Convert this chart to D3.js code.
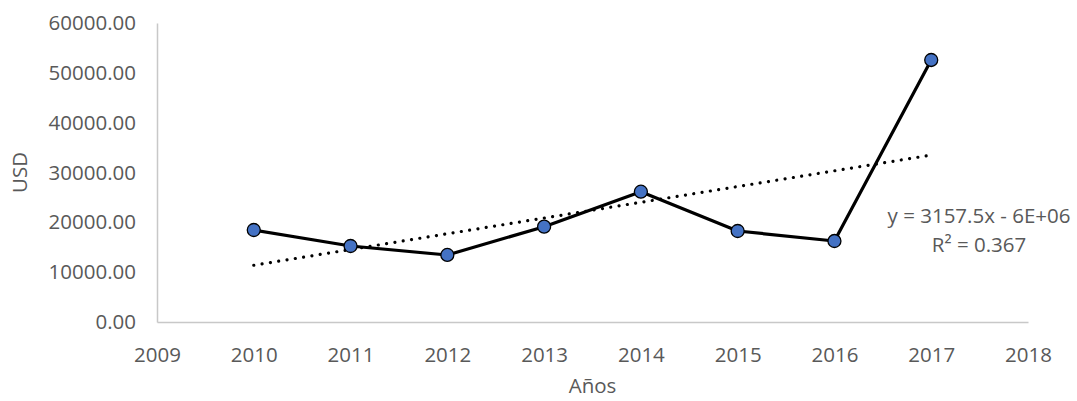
<!DOCTYPE html>
<html>
<head>
<meta charset="utf-8">
<script src="https://cdn.jsdelivr.net/npm/d3@7"></script>
<style>
  body { margin: 0; background: #fff; }
  svg { display: block; font-family: "Open Sans", sans-serif; }
</style>
</head>
<body>
<div id="chart"></div>
<script>
// Values
const years = [2010, 2011, 2012, 2013, 2014, 2015, 2016, 2017];
const usd = [18460, 15250, 13450, 19130, 26150, 18260, 16250, 52580];
const xTicks = [2009, 2010, 2011, 2012, 2013, 2014, 2015, 2016, 2017, 2018];
const yTicks = [0, 10000, 20000, 30000, 40000, 50000, 60000];
const equationLines = ["y = 3157.5x - 6E+06", "R\u00B2 = 0.367"];

const width = 1077;
const height = 401;
const marginTop = 23;
const marginRight = 49;
const marginBottom = 79;
const marginLeft = 157;

const svg = d3.select("#chart").append("svg")
    .attr("width", width)
    .attr("height", height);

const x = d3.scaleLinear()
    .domain([2009, 2018])
    .range([marginLeft, width - marginRight]);

const y = d3.scaleLinear()
    .domain([0, 60000])
    .range([height - marginBottom, marginTop]);

const textColor = "#595959";
const fontSize = 20.5;

// Axis lines (no ticks, like Excel)
svg.append("g")
    .attr("transform", `translate(0,${height - marginBottom})`)
    .call(d3.axisBottom(x).tickValues(xTicks).tickSize(0).tickPadding(25).tickFormat(d3.format("d")))
    .call(g => g.select(".domain").attr("stroke", "#c8c8c8").attr("stroke-width", 1.5))
    .call(g => g.selectAll("text").attr("fill", textColor).attr("font-size", fontSize)
        .attr("font-family", "'Open Sans', sans-serif"));

svg.append("g")
    .attr("transform", `translate(${marginLeft},0)`)
    .call(d3.axisLeft(y).tickValues(yTicks).tickSize(0).tickPadding(21).tickFormat(d3.format(".2f")))
    .call(g => g.select(".domain").attr("stroke", "#c8c8c8").attr("stroke-width", 1.5))
    .call(g => g.selectAll("text").attr("fill", textColor).attr("font-size", fontSize)
        .attr("font-family", "'Open Sans', sans-serif"));

// Axis titles
svg.append("text")
    .attr("x", (marginLeft + width - marginRight) / 2)
    .attr("y", 393)
    .attr("text-anchor", "middle")
    .attr("fill", textColor)
    .attr("font-size", fontSize)
    .text("Años");

svg.append("text")
    .attr("transform", `translate(27,${(marginTop + height - marginBottom) / 2}) rotate(-90)`)
    .attr("text-anchor", "middle")
    .attr("fill", textColor)
    .attr("font-size", fontSize)
    .text("USD");

// Linear trend line, least squares over the data
const mx = d3.mean(years);
const my = d3.mean(usd);
const slope = d3.sum(years, (d, i) => (d - mx) * (usd[i] - my)) / d3.sum(years, d => (d - mx) ** 2);
const intercept = my - slope * mx;
const trend = [years[0], years[years.length - 1]].map(t => [t, slope * t + intercept]);

svg.append("path")
    .datum(trend)
    .attr("fill", "none")
    .attr("stroke", "#000")
    .attr("stroke-width", 3.2)
    .attr("stroke-linecap", "round")
    .attr("stroke-dasharray", "0.01 8.4")
    .attr("d", d3.line().x(d => x(d[0])).y(d => y(d[1])));

// Data line
const pts = years.map((t, i) => [t, usd[i]]);
svg.append("path")
    .datum(pts)
    .attr("fill", "none")
    .attr("stroke", "#000")
    .attr("stroke-width", 3.2)
    .attr("stroke-linejoin", "round")
    .attr("d", d3.line().x(d => x(d[0])).y(d => y(d[1])));

svg.append("g")
    .selectAll("circle")
    .data(pts)
    .join("circle")
    .attr("cx", d => x(d[0]))
    .attr("cy", d => y(d[1]))
    .attr("r", 6.5)
    .attr("fill", "#4472C4")
    .attr("stroke", "#000")
    .attr("stroke-width", 1.3);

// Trend equation label
svg.append("text")
    .attr("text-anchor", "middle")
    .attr("fill", textColor)
    .attr("font-size", fontSize)
    .selectAll("tspan")
    .data(equationLines)
    .join("tspan")
    .attr("x", 979)
    .attr("y", (d, i) => 223 + i * 29)
    .text(d => d);
</script>
</body>
</html>
